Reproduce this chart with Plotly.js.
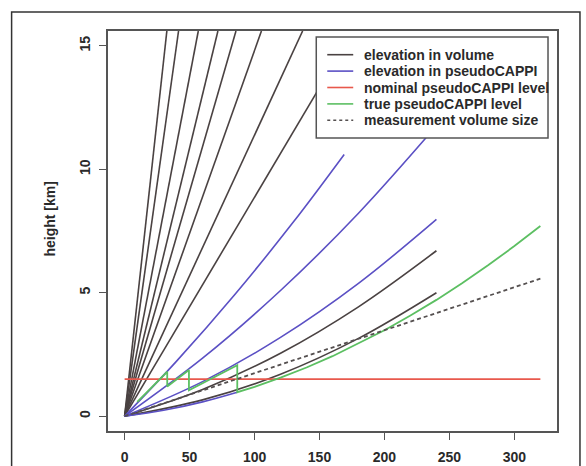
<!DOCTYPE html>
<html>
<head>
<meta charset="utf-8">
<script src="https://cdn.plot.ly/plotly-3.0.1.min.js"></script>
<style>
html,body{margin:0;padding:0;background:#ffffff;}
#chart{width:586px;height:466px;}
</style>
</head>
<body>
<div id="chart"></div>
<script>
// ---- data ----
// steep elevations of the volume scan (straight rays from the radar)
const volSteepEndX = [32.5, 41.5, 56.7, 71.8, 85.7, 105.3, 137.0, 155.0];
const volSteepEndY = [15.6, 15.6, 15.6, 15.6, 15.6, 15.6, 15.6, 13.75];
// low elevations of the volume scan (curved rays)
const volLowX   = [0, 60, 120, 180, 240];
const volLow1Y  = [0, 1.08, 2.55, 4.43, 6.70];
const volLow2Y  = [0, 0.66, 1.70, 3.15, 5.00];
// elevations used in the pseudoCAPPI
const cap1X = [0, 40, 85, 130, 169];
const cap1Y = [0, 2.23, 4.94, 7.87, 10.60];
const cap2X = [0, 60, 120, 180, 240];
const cap2Y = [0, 2.35, 5.09, 8.22, 11.76];
const cap3X = [0, 60, 120, 180, 240];
const cap3Y = [0, 1.40, 3.19, 5.38, 7.97];
const cap4X = [0, 30, 60, 86.7];
const cap4Y = [0, 0.24, 0.58, 0.97];
// nominal pseudoCAPPI level
const nominalX = [0, 320];
const nominalY = [1.5, 1.5];
// true pseudoCAPPI level (saw-tooth, then along the lowest elevation)
const trueX = [9.7, 20, 32.8, 32.8, 40, 49.5, 49.5, 70, 86.7, 86.7, 100, 120, 140, 160, 180, 200, 220, 240, 260, 280, 300, 320];
const trueY = [0.58, 1.12, 1.80, 1.20, 1.50, 1.87, 1.05, 1.60, 2.06, 0.97, 1.19, 1.56, 1.97, 2.43, 2.94, 3.48, 4.08, 4.71, 5.39, 6.12, 6.89, 7.70];
// measurement volume size
const volSizeX = [0, 320];
const volSizeY = [0, 5.57];

// legend labels and colours
const legendNames = ["elevation in volume", "elevation in pseudoCAPPI",
  "nominal pseudoCAPPI level", "true pseudoCAPPI level", "measurement volume size"];
const cBlack = "#4a4242", cBlue = "#5b50c4", cRed = "#e8584c", cGreen = "#5cbf62", cDash = "#555050";
const legendColors = [cBlack, cBlue, cRed, cGreen, cDash];
const legendDash = ["solid", "solid", "solid", "solid", "dot"];

const traces = [];
const base = {mode: "lines", type: "scatter", hoverinfo: "skip", showlegend: false};
volSteepEndX.forEach((ex, i) => {
  traces.push(Object.assign({}, base, {x: [0, ex], y: [0, volSteepEndY[i]], line: {color: cBlack, width: 1.6}}));
});
[volLow1Y, volLow2Y].forEach((yy) => {
  traces.push(Object.assign({}, base, {x: volLowX, y: yy, line: {color: cBlack, width: 1.6, shape: "spline"}}));
});
[[cap1X, cap1Y], [cap2X, cap2Y], [cap3X, cap3Y], [cap4X, cap4Y]].forEach((p) => {
  traces.push(Object.assign({}, base, {x: p[0], y: p[1], line: {color: cBlue, width: 1.6, shape: "spline"}}));
});
traces.push(Object.assign({}, base, {x: nominalX, y: nominalY, line: {color: cRed, width: 1.6}}));
traces.push(Object.assign({}, base, {x: trueX, y: trueY, line: {color: cGreen, width: 1.8}}));
traces.push(Object.assign({}, base, {x: volSizeX, y: volSizeY, line: {color: cDash, width: 1.8, dash: "4px,3px"}}));

const W = 586, H = 466;
const L = 107.5, R = 29, T = 31, B = 35;
const pw = W - L - R, ph = H - T - B;
const px = v => (v - L) / pw;
const py = v => (H - B - v) / ph;

const fontTick = {family: "Liberation Sans, Arial, sans-serif", size: 14, color: "#2a2a2a", weight: "bold"};

// legend box (R style), built from the legend arrays
const shapes = [
  {type: "rect", xref: "paper", yref: "paper", x0: px(11), x1: px(580), y0: py(475), y1: py(12),
    line: {color: "#333333", width: 1.5}, layer: "below"},
  {type: "rect", xref: "paper", yref: "paper", x0: px(316), x1: px(548), y0: py(138), y1: py(37),
    line: {color: "#555555", width: 1.5}, fillcolor: "#ffffff", layer: "above"}
];
const annotations = [{text: "height [km]", xref: "paper", yref: "paper", x: px(49), y: py(219), textangle: -90,
  showarrow: false, font: fontTick, xanchor: "center", yanchor: "middle"}];
legendNames.forEach((nm, i) => {
  const yy = 54.7 + 16.4 * i;
  shapes.push({type: "line", xref: "paper", yref: "paper", x0: px(327), x1: px(353), y0: py(yy), y1: py(yy),
    line: {color: legendColors[i], width: 1.6, dash: legendDash[i]}, layer: "above"});
  annotations.push({text: nm, xref: "paper", yref: "paper", x: px(362), y: py(yy), xanchor: "left", yanchor: "middle",
    showarrow: false, font: fontTick});
});

const layout = {
  width: W, height: H,
  margin: {l: L, r: R, t: T, b: B, pad: 0},
  paper_bgcolor: "#ffffff", plot_bgcolor: "#ffffff",
  showlegend: false,
  xaxis: {range: [-12.8, 332.8], tickvals: [0, 50, 100, 150, 200, 250, 300], ticks: "outside", ticklen: 7,
    tickcolor: "#555555", tickwidth: 1.3, showgrid: false, zeroline: false, showline: true, mirror: true,
    linecolor: "#555555", linewidth: 1.6, tickfont: fontTick, ticklabelstandoff: 6},
  yaxis: {range: [-0.6, 15.6], tickvals: [0, 5, 10, 15], ticks: "outside", ticklen: 7, tickangle: -90,
    tickcolor: "#555555", tickwidth: 1.3, showgrid: false, zeroline: false, showline: true, mirror: true,
    linecolor: "#555555", linewidth: 1.6, tickfont: fontTick, ticklabelstandoff: 4},
  annotations: annotations,
  shapes: shapes
};

Plotly.newPlot("chart", traces, layout, {staticPlot: true, displayModeBar: false});
</script>
</body>
</html>
